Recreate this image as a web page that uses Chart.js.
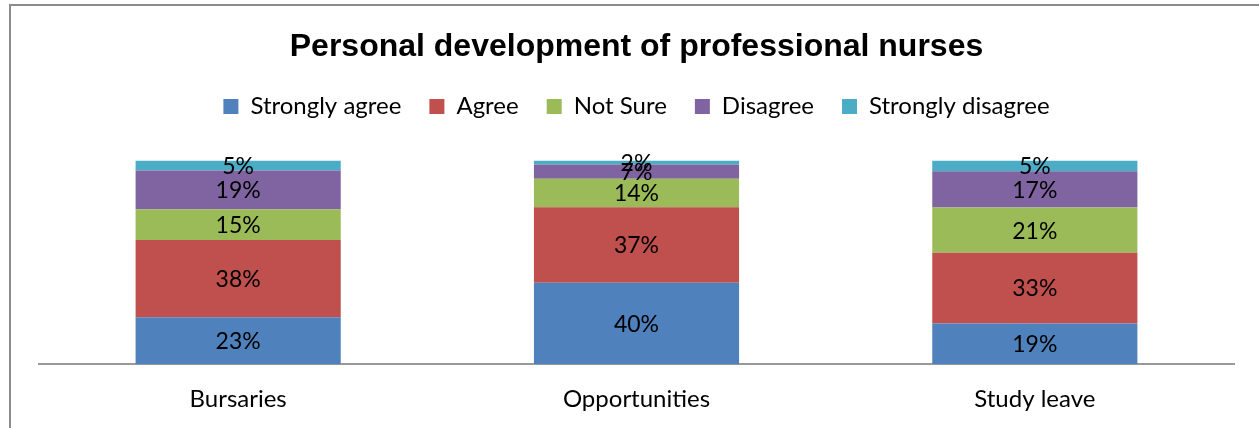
<!DOCTYPE html>
<html>
<head>
<meta charset="utf-8">
<script src="https://cdn.jsdelivr.net/npm/chart.js@4"></script>
<style>
  html, body { margin: 0; padding: 0; background: #fff; }
  #wrap { width: 1259px; height: 428px; position: relative; }
</style>
</head>
<body>
<div id="wrap"><canvas id="c"></canvas></div>
<script>
const categories = ['Bursaries', 'Opportunities', 'Study leave'];
const seriesNames = ['Strongly agree', 'Agree', 'Not Sure', 'Disagree', 'Strongly disagree'];
const stronglyAgree = [23, 40, 19];
const agree = [38, 37, 33];
const notSure = [15, 14, 21];
const disagree = [19, 7, 17];
const stronglyDisagree = [5, 2, 5];
const seriesColors = ['#4F81BD', '#C0504D', '#9BBB59', '#8064A2', '#4BACC6'];

const FONT = 'Lato, "Open Sans", sans-serif';
const raw = [stronglyAgree, agree, notSure, disagree, stronglyDisagree];
// 100% stacked: each bar is scaled to its category total, labels keep raw value
const totals = categories.map((_, i) => raw.reduce((s, arr) => s + arr[i], 0));

// Excel-ish outer frame (left + top edges visible in the crop)
const framePlugin = {
  id: 'frame',
  beforeDraw(chart) {
    const ctx = chart.ctx;
    ctx.save();
    ctx.strokeStyle = '#8c8c8c';
    ctx.lineWidth = 2;
    ctx.strokeRect(10, 5, 1400, 600);
    ctx.restore();
  },
};

// extra gap between the legend and the plot
const legendGap = {
  id: 'legend-gap',
  beforeInit(chart) {
    const origFit = chart.legend.fit;
    chart.legend.fit = function fit() {
      origFit.call(this);
      this.height += 32;
    };
  },
};

const valueLabels = {
  id: 'value-labels',
  afterDatasetsDraw(chart) {
    const ctx = chart.ctx;
    ctx.save();
    ctx.font = '23px ' + FONT;
    ctx.fillStyle = '#000';
    ctx.textAlign = 'center';
    ctx.textBaseline = 'middle';
    chart.data.datasets.forEach((ds, di) => {
      const meta = chart.getDatasetMeta(di);
      meta.data.forEach((bar, i) => {
        const mid = (bar.y + bar.base) / 2;
        ctx.fillText(ds.raw[i] + '%', bar.x, mid + 1);
      });
    });
    ctx.restore();
  },
};

new Chart(document.getElementById('c'), {
  type: 'bar',
  data: {
    labels: categories,
    datasets: raw.map((arr, k) => ({
      label: seriesNames[k],
      raw: arr,
      data: arr.map((v, i) => v / totals[i] * 100),
      backgroundColor: seriesColors[k],
      borderWidth: 0,
      categoryPercentage: 1,
      barPercentage: 0.515,
    })),
  },
  options: {
    responsive: true,
    maintainAspectRatio: false,
    animation: false,
    layout: { padding: { top: 28, left: 39, right: 25, bottom: 1 } },
    scales: {
      x: {
        stacked: true,
        grid: { display: false },
        border: { color: '#999', width: 2 },
        ticks: { color: '#000', font: { family: FONT, size: 24 }, padding: 13 },
      },
      y: {
        stacked: true,
        display: false,
        min: 0,
        max: 100,
      },
    },
    plugins: {
      title: {
        display: true,
        text: 'Personal development of professional nurses',
        color: '#000',
        font: { family: '"Liberation Sans", Arial, sans-serif', size: 32, weight: 'bold' },
        padding: { top: 0, bottom: 0 },
      },
      legend: {
        display: true,
        labels: {
          color: '#000',
          font: { family: FONT, size: 24 },
          boxWidth: 15,
          boxHeight: 15,
          padding: 28,
        },
      },
      tooltip: { enabled: false },
    },
  },
  plugins: [framePlugin, legendGap, valueLabels],
});
</script>
</body>
</html>
